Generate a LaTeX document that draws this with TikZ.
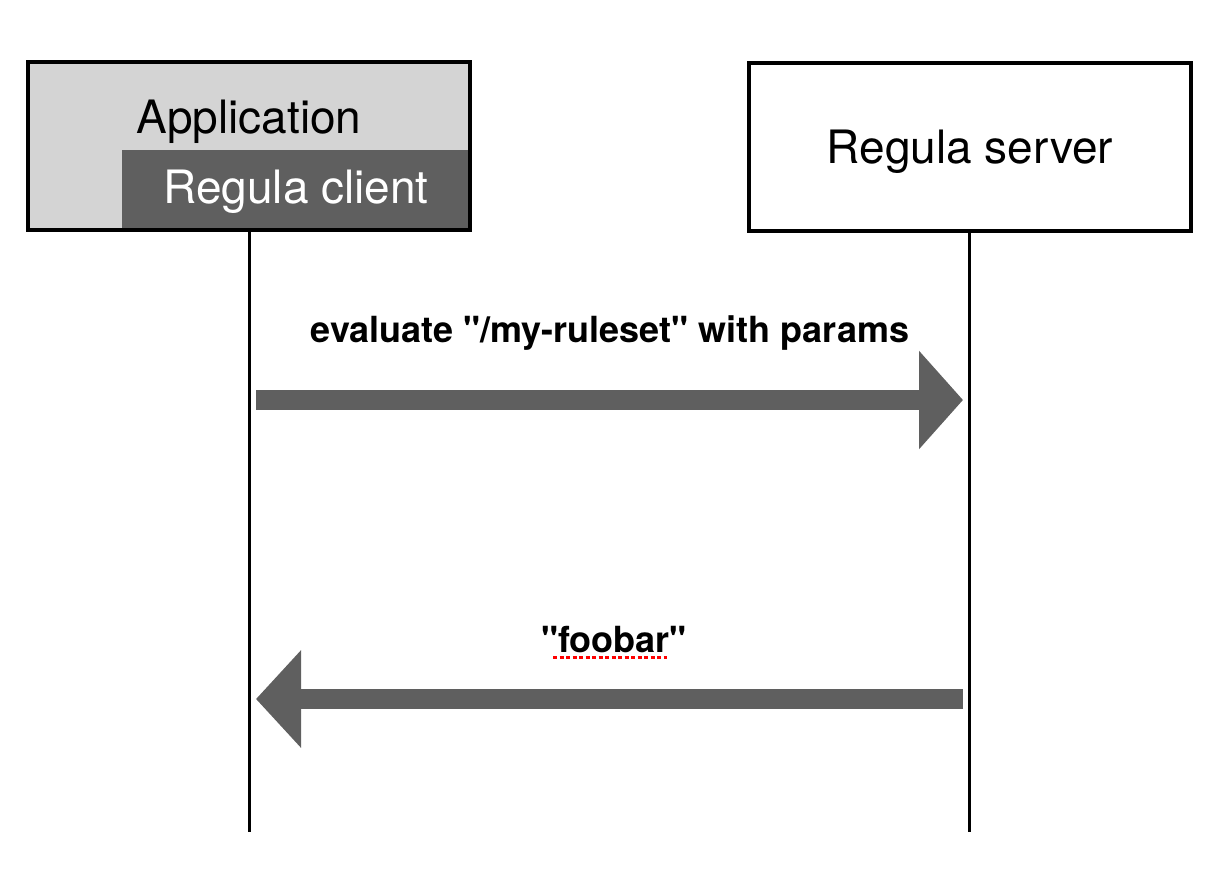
\documentclass[tikz,border=0pt]{standalone}
\usepackage{fontspec}
\setmainfont{TeX Gyre Heros}[Ligatures=TeXOff]
\usetikzlibrary{arrows.meta}
\definecolor{lightg}{HTML}{D4D4D4}
\definecolor{darkg}{HTML}{5F5F5F}
\begin{document}
\begin{tikzpicture}[x=1pt,y=-1pt,
  box/.style={line width=4pt,minimum width=442pt,minimum height=168pt,inner sep=0pt,outer sep=0pt},
  lbl/.style={font=\fontsize{46}{50}\selectfont,anchor=base,inner sep=0pt},
  msg/.style={font=\fontsize{36}{40}\selectfont\bfseries,anchor=base,inner sep=0pt},
  life/.style={line width=3pt},
  bigarrow/.style={draw=darkg,line width=20pt,line cap=butt}]
\useasboundingbox (0,0) rectangle (1216,868);
% Application box
\node[box,fill=lightg] (app) at (249,146) {};
\node[fill=darkg,minimum width=348pt,minimum height=80pt,inner sep=0pt,outer sep=0pt] (client) at (296,190) {};
\draw[line width=4pt] (app.south west) rectangle (app.north east);
\node[lbl] (apptxt) at (249,133) {Application};
\node[lbl,text=white] (clienttxt) at (296,203) {Regula client};
% Server box
\node[box,draw=black,fill=white] (srv) at (970,147) {};
\node[lbl] (srvtxt) at (970,163) {Regula server};
% Lifelines
\coordinate (append) at (249.5,832);
\coordinate (srvend) at (969.5,832);
\draw[life] (app.south -| append) -- (append);
\draw[life] (srv.south -| srvend) -- (srvend);
% Messages
\coordinate (m1s) at (256,400);
\coordinate (m1e) at (963,400);
\draw[bigarrow,-{Triangle[length=44pt,width=96pt]}] (m1s) -- (m1e);
\node[msg] (m1lbl) at (610,342) {evaluate "/my-ruleset" with params};
\coordinate (m2s) at (963,699);
\coordinate (m2e) at (256,699);
\draw[bigarrow,-{Triangle[length=45pt,width=95pt]}] (m2s) -- (m2e);
\node[msg] (m2lbl) at (614,652) {"foobar"};
\draw[red,line width=3pt,dash pattern=on 4pt off 2.5pt] (553,657) -- (667,657);
\end{tikzpicture}
\end{document}
